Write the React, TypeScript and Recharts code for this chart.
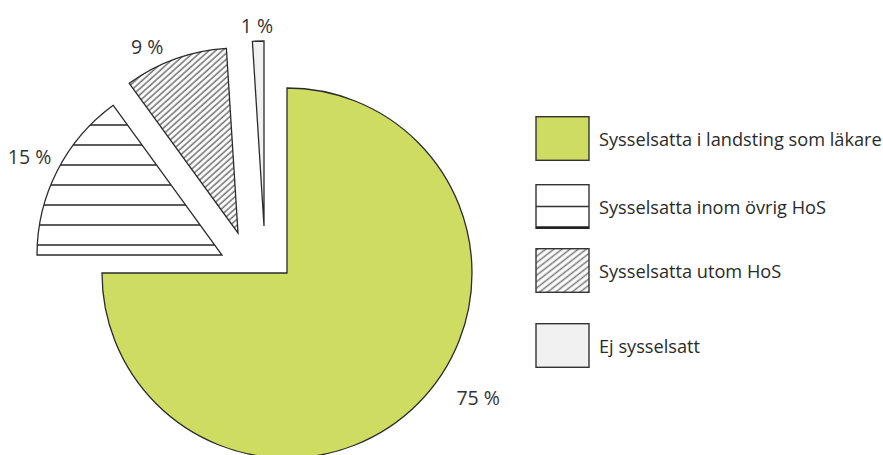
import React from "react"
import { PieChart, Pie, Cell, Legend } from "recharts"

// andelar i procent, medurs från klockan tolv
const categories = [
  "Sysselsatta i landsting som läkare",
  "Sysselsatta inom övrig HoS",
  "Sysselsatta utom HoS",
  "Ej sysselsatt",
]
const shares = [75, 15, 9, 1]
const shareLabels = ["75 %", "15 %", "9 %", "1 %"]

const data = categories.map((name, i) => ({ name, value: shares[i], label: shareLabels[i] }))

// utseende
const fills = ["#cedd62", "url(#stripes)", "url(#hatch)", "#f1f1f1"]
const explode = [
  [0, 0],
  [-65, -18],
  [-49, -40],
  [-23, -47],
]
const labelAngle = [-33, 153, 116, 92]
const labelRadius = [228, 216, 207, 201]
const legendGap = [23, 19, 30, 0]

const CX = 287
const CY = 273
const R = 185
const RAD = Math.PI / 180

function makeLabel(slice: number) {
  return (props: any) => {
    if (props.index !== slice) return null
    const a = labelAngle[slice] * RAD
    const x = props.cx + labelRadius[slice] * Math.cos(a)
    const y = props.cy - labelRadius[slice] * Math.sin(a)
    return (
      <text x={x} y={y} textAnchor="middle" dominantBaseline="central" fill="#333" fontSize={19.5}>
        {shareLabels[slice]}
      </text>
    )
  }
}

function LegendBox({ i }: { i: number }) {
  return (
    <svg width={56} height={45} style={{ display: "block" }}>
      <rect x={1} y={0.7} width={53} height={43.6} fill={i === 1 ? "#fff" : i === 2 ? "url(#hatchSmall)" : fills[i]} stroke="#333" strokeWidth={1.4} />
      {i === 1 && <line x1={1} y1={22.5} x2={54} y2={22.5} stroke="#333" strokeWidth={1.4} />}
      {i === 1 && <line x1={1} y1={43.5} x2={54} y2={43.5} stroke="#222" strokeWidth={2.5} />}
    </svg>
  )
}

function renderLegend() {
  return (
    <div>
      {categories.map((c, i) => (
        <div key={c} style={{ display: "flex", alignItems: "center", marginBottom: legendGap[i] }}>
          <LegendBox i={i} />
          <span style={{ marginLeft: 8, fontSize: 18.2, color: "#2a2a2a", whiteSpace: "nowrap" }}>{c}</span>
        </div>
      ))}
    </div>
  )
}

export default function App() {
  return (
    <div style={{ position: "absolute", left: 0, top: 0, fontFamily: "'Open Sans', sans-serif", background: "#fff" }}>
      <PieChart width={883} height={455} margin={{ top: 0, right: 0, bottom: 0, left: 0 }}>
        <defs>
          <pattern id="stripes" patternUnits="userSpaceOnUse" width={10} height={20}>
            <rect width={10} height={20} fill="#fff" />
            <line x1={0} y1={5} x2={10} y2={5} stroke="#333" strokeWidth={1.6} />
          </pattern>
          <pattern id="hatch" patternUnits="userSpaceOnUse" width={8} height={4.5} patternTransform="rotate(-42)">
            <rect width={8} height={4.5} fill="#fff" />
            <line x1={0} y1={2} x2={8} y2={2} stroke="#777" strokeWidth={1.6} />
          </pattern>
          <pattern id="hatchSmall" patternUnits="userSpaceOnUse" width={8} height={5} patternTransform="rotate(-38)">
            <rect width={8} height={5} fill="#fff" />
            <line x1={0} y1={2.5} x2={8} y2={2.5} stroke="#7c7c7c" strokeWidth={1.6} />
          </pattern>
        </defs>
        {data.map((_, s) => (
          <Pie
            key={s}
            data={data}
            dataKey="value"
            nameKey="name"
            cx={CX + explode[s][0]}
            cy={CY + explode[s][1]}
            outerRadius={R}
            startAngle={90}
            endAngle={-270}
            isAnimationActive={false}
            labelLine={false}
            label={makeLabel(s)}
          >
            {data.map((d, i) => (
              <Cell
                key={d.name}
                fill={i === s ? fills[i] : "none"}
                stroke={i === s ? "#2b2b2b" : "none"}
                strokeWidth={1.3}
              />
            ))}
          </Pie>
        ))}
        <Legend content={renderLegend} wrapperStyle={{ left: 535, top: 116, width: 348, bottom: "auto" }} />
      </PieChart>
    </div>
  )
}
